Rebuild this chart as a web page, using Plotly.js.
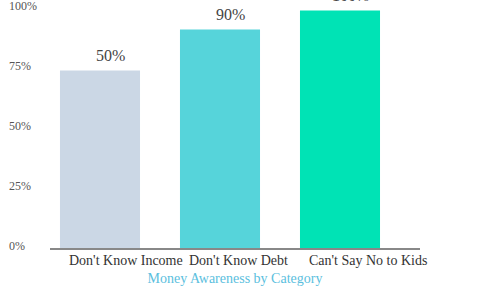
<!DOCTYPE html>
<html>
<head>
<meta charset="utf-8">
<script src="https://cdn.plot.ly/plotly-3.0.1.min.js"></script>
<style>html,body{margin:0;padding:0;background:#fff;}#chart{width:500px;height:300px;}</style>
</head>
<body>
<div id="chart"></div>
<script>
var categories = ["Don't Know Income", "Don't Know Debt", "Can't Say No to Kids"];
var values = [74, 91, 99];
var barLabels = ["50%", "90%", "100%"];
var yTickValues = [0, 25, 50, 75, 100];
var yTickLabels = ["0%", "25%", "50%", "75%", "100%"];
var barColors = ["#CBD7E5", "#56D4DA", "#00E3B5"];

var serif = "'Liberation Serif', 'Times New Roman', serif";
var idx = categories.map(function (c, i) { return i; });

var trace = {
  type: 'bar',
  x: idx,
  y: values,
  marker: { color: barColors },
  hoverinfo: 'none'
};

var annotations = [];
// bar value labels
idx.forEach(function (i) {
  annotations.push({
    x: i, y: values[i], xref: 'x', yref: 'y',
    text: barLabels[i], showarrow: false,
    xanchor: 'center', yanchor: 'middle',
    xshift: 10, yshift: 15,
    font: { family: serif, size: 16, color: '#444' }
  });
});
// category labels (left aligned)
idx.forEach(function (i) {
  annotations.push({
    x: i, y: 0, xref: 'x', yref: 'paper',
    text: categories[i], showarrow: false,
    xanchor: 'left', yanchor: 'top',
    xshift: -33, yshift: -3,
    font: { family: serif, size: 14, color: '#333' }
  });
});
// y tick labels (left aligned)
yTickValues.forEach(function (v, k) {
  annotations.push({
    x: -0.115, y: v, xref: 'paper', yref: 'y',
    text: yTickLabels[k], showarrow: false,
    xanchor: 'left', yanchor: 'middle', yshift: 2,
    font: { family: serif, size: 12, color: '#555' }
  });
});

var layout = {
  width: 500, height: 300,
  margin: { l: 50, r: 80, t: 8, b: 52 },
  paper_bgcolor: '#fff', plot_bgcolor: '#fff',
  showlegend: false,
  bargap: 0.333,
  font: { family: serif },
  xaxis: {
    range: [-0.4167, 2.6667],
    showticklabels: false, ticks: '',
    showgrid: false, zeroline: false,
    showline: true, linecolor: '#888', linewidth: 2,
    automargin: false,
    title: { text: 'Money Awareness by Category', standoff: 24,
             font: { family: serif, size: 14, color: '#5BC0DE' } },
    fixedrange: true
  },
  yaxis: {
    range: [0, 100],
    showticklabels: false, ticks: '',
    showgrid: false, zeroline: false, showline: false,
    automargin: false,
    fixedrange: true
  },
  annotations: annotations
};

Plotly.newPlot('chart', [trace], layout, { displayModeBar: false, staticPlot: true });
</script>
</body>
</html>
